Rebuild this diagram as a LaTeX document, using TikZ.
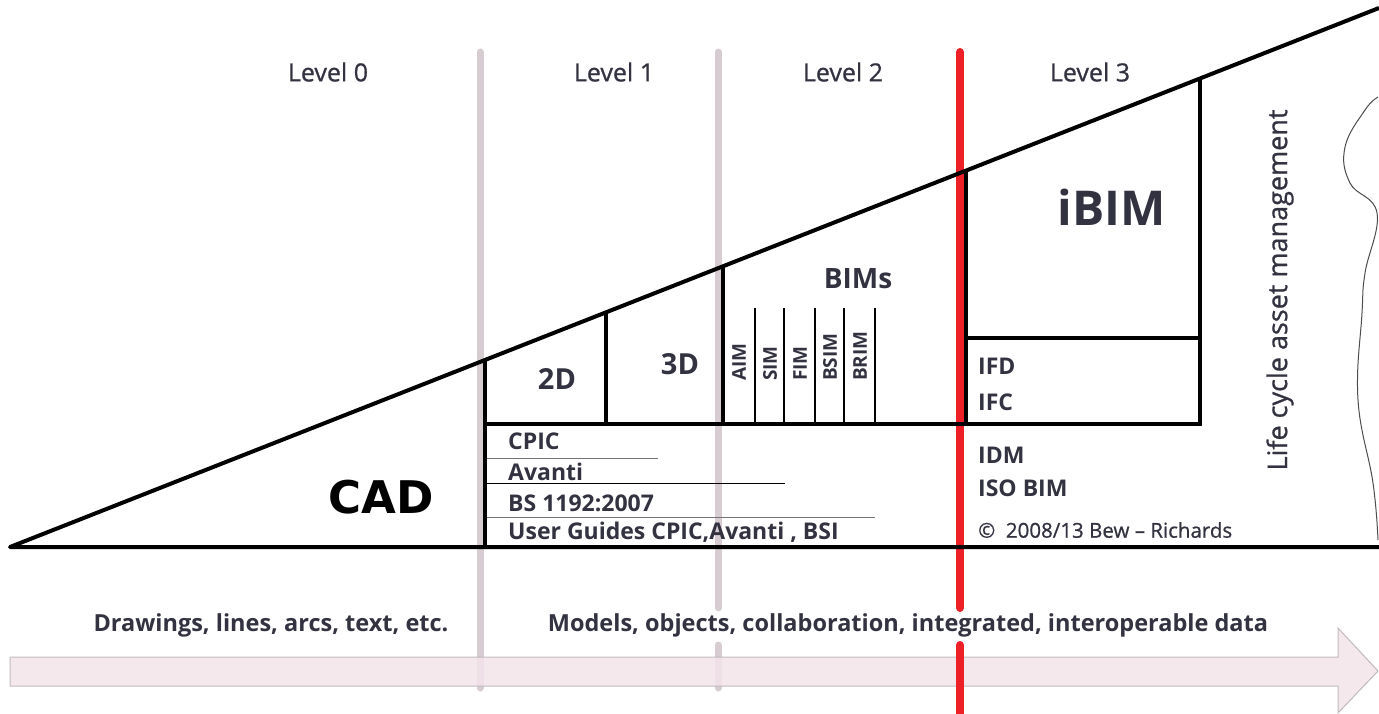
\documentclass[tikz,border=0pt]{standalone}
\usepackage{fontspec}
\setmainfont{Open Sans}
\newfontfamily\midfont[FakeBold=0.8]{Open Sans}
\newfontfamily\cadfont{DejaVu Sans}
\usetikzlibrary{positioning}

\definecolor{txt}{RGB}{50,50,64}
\definecolor{lvlgray}{RGB}{214,204,209}
\definecolor{lvlred}{RGB}{236,32,38}
\definecolor{arrowpink}{RGB}{243,228,234}
\definecolor{arrowedge}{RGB}{192,186,189}

\begin{document}
\begin{tikzpicture}[x=1pt,y=-1pt,
    frame/.style={line width=3.5pt,black},
    thinsep/.style={line width=1.5pt,black},
    sep/.style={line width=7pt,lvlgray,line cap=round},
    redsep/.style={line width=8pt,lvlred,line cap=round},
    lvl/.style={text=txt,font=\midfont\fontsize{25}{29}\selectfont},
    item/.style={text=txt,font=\bfseries\fontsize{23}{27}\selectfont,anchor=west,inner sep=0pt},
    bim/.style={text=txt,font=\bfseries\fontsize{19}{23}\selectfont,rotate=90,anchor=west,inner sep=0pt},
    big/.style={text=txt,font=\bfseries\fontsize{29}{34}\selectfont},
    bottomtxt/.style={text=txt,font=\bfseries\fontsize{23.5}{27}\selectfont}]
        \useasboundingbox (0,0) rectangle (1379,714);

        % Level separators
        \draw[sep] (480,52) -- (480,688);
        \draw[sep] (718,52) -- (718,608);
        \draw[sep] (718,645) -- (718,688);

        % Arrow
        \draw[arrowedge, fill=arrowpink, fill opacity=0.85, line width=1pt]
            (10,657) -- (1338,657) -- (1338,628) -- (1378,671) -- (1338,713) -- (1338,686) -- (10,686) -- cycle;

        % Level 3 line
        \draw[redsep] (960,52) -- (960,608);
        \draw[redsep] (960,645) -- (960,716);

        % Triangle
        \draw[frame, line width=4pt, line join=round] (1379,8) -- (10,547) -- (1379,547);
        \draw[frame] (485,360) -- (485,547);
        \draw[frame] (485,424) -- (1202,424);
        \draw[frame] (606,312) -- (606,424);
        \draw[frame] (723,266) -- (723,424);
        \draw[frame] (966,171) -- (966,424);
        \draw[frame] (966,338) -- (1202,338);
        \draw[frame] (1200,79) -- (1200,424);
        \foreach \x in {755,784,815,844,875}
            \draw[thinsep] (\x,308) -- (\x,424);

        % Lines under the standards
        \draw[line width=1pt, black!55] (487,458) -- (658,458);
        \draw[line width=1pt] (487,483) -- (785,483);
        \draw[line width=1pt, black!55] (487,517) -- (875,517);

        % Right edge
        \draw[line width=1pt, black!70] plot[smooth, tension=0.7] coordinates
            {(1378,97) (1365,110) (1345,147) (1350,183) (1377,213) (1365,273) (1362,313) (1358,400) (1373,483) (1378,540)};

        % Level labels
        \node[lvl] (lvl0) at (328,72) {Level 0};
        \node[lvl] (lvl1) at (614,72) {Level 1};
        \node[lvl] (lvl2) at (843,72) {Level 2};
        \node[lvl] (lvl3) at (1090,72) {Level 3};

        % Level 0
        \node[text=black, font=\cadfont\bfseries\fontsize{45}{50}\selectfont] (cad) at (381,497) {CAD};

        % Level 1
        \node[big] (twod) at (557,379) {2D};
        \node[big] (threed) at (680,364) {3D};
        \node[item] (cpic) at (508,441) {CPIC};
        \node[item] (avanti) at (508,472) {Avanti};
        \node[item] (bs) at (508,503) {BS 1192:2007};
        \node[item] (guides) at (508,532) {User Guides CPIC,Avanti , BSI};

        % Level 2
        \node[big, font=\bfseries\fontsize{28}{32}\selectfont] (bims) at (858,279) {BIMs};
        \node[bim] (aim) at (739,381) {AIM};
        \node[bim] (sim) at (770,381) {SIM};
        \node[bim] (fim) at (800,381) {FIM};
        \node[bim] (bsim) at (830,381) {BSIM};
        \node[bim] (brim) at (860,381) {BRIM};

        % Level 3
        \node[big, font=\bfseries\fontsize{48}{54}\selectfont] (ibim) at (1112,207) {iBIM};
        \node[item] (ifd) at (978,366) {IFD};
        \node[item] (ifc) at (978,402) {IFC};
        \node[item] (idm) at (978,455) {IDM};
        \node[item] (isobim) at (978,488) {ISO BIM};
        \node[item, font=\midfont\fontsize{20.5}{24}\selectfont] (copyr) at (978,530) {©\ \ 2008/13 Bew – Richards};
        \node[lvl, font=\midfont\fontsize{27}{31}\selectfont, rotate=90] (lifecycle) at (1280,290) {Life cycle asset management};

        % Arrow texts
        \node[bottomtxt] (drawings) at (271,625) {Drawings, lines, arcs, text, etc.};
        \node[bottomtxt] (models) at (908,625) {Models, objects, collaboration, integrated, interoperable data};
    \end{tikzpicture}
\end{document}
